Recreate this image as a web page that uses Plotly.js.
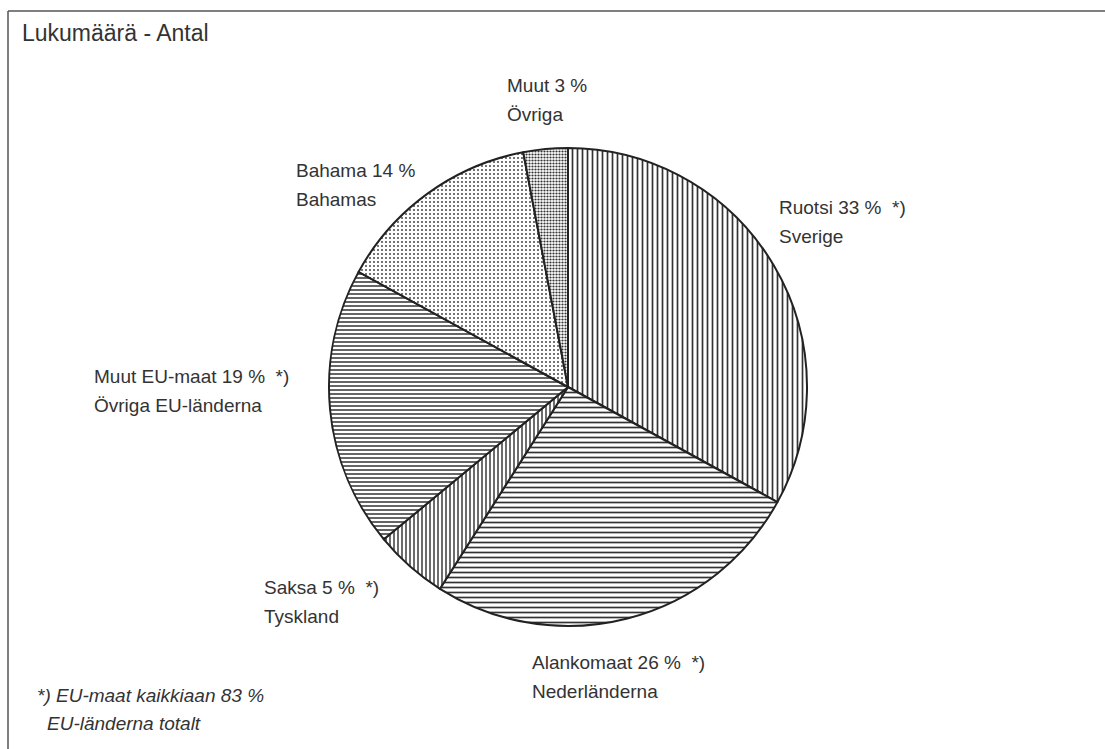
<!DOCTYPE html>
<html>
<head>
<meta charset="utf-8">
<script src="https://cdn.plot.ly/plotly-3.0.1.min.js"></script>
<style>
  html, body { margin: 0; padding: 0; background: #ffffff; }
  #plot { width: 1105px; height: 749px; }
</style>
</head>
<body>
<div id="plot"></div>
<script>
// share by flag state, clockwise from 12 o'clock
const labelsFi = ['Ruotsi', 'Alankomaat', 'Saksa', 'Muut EU-maat', 'Bahama', 'Muut'];
const labelsSv = ['Sverige', 'Nederländerna', 'Tyskland', 'Övriga EU-länderna', 'Bahamas', 'Övriga'];
const shares = [33, 26, 5, 19, 14, 3];
const isEU = [true, true, true, true, false, false];

const patternShapes = ['|', '-', '|', '-', '.', '.'];
const patternSizes = [5, 5, 4, 4, 4, 3];
const patternSolidity = [0.34, 0.34, 0.36, 0.38, 0.16, 0.42];

// label anchor (left edge, first line middle) in page pixels
const labelPos = [
  [777, 207], [530, 662], [262, 587], [92, 376], [294, 170], [505, 85]
];

const W = 1105, H = 749;
const LABEL_FONT = 'Liberation Sans, Arial, sans-serif';
const TEXT_COLOR = '#333333';
const LINE_GAP = 29;

function px(x) { return x / W; }
function py(y) { return 1 - y / H; }

const cx = 568, cy = 387, r = 239;

const trace = {
  type: 'pie',
  labels: labelsFi,
  values: shares,
  sort: false,
  direction: 'clockwise',
  rotation: 0,
  textinfo: 'none',
  hoverinfo: 'label+percent',
  domain: { x: [px(cx - r), px(cx + r)], y: [py(cy + r), py(cy - r)] },
  marker: {
    colors: shares.map(() => '#ffffff'),
    line: { color: '#222222', width: 2 },
    pattern: {
      shape: patternShapes,
      size: patternSizes,
      solidity: patternSolidity,
      fgcolor: '#333333',
      bgcolor: '#ffffff',
      fillmode: 'replace'
    }
  }
};

function textLine(text, x, y, italic) {
  return {
    xref: 'paper', yref: 'paper',
    x: px(x), y: py(y),
    xanchor: 'left', yanchor: 'middle',
    align: 'left',
    showarrow: false,
    text: italic ? '<i>' + text + '</i>' : text,
    font: { family: LABEL_FONT, size: 19, color: TEXT_COLOR }
  };
}

const annotations = [];
labelsFi.forEach((fi, i) => {
  const [x, y] = labelPos[i];
  annotations.push(textLine(fi + ' ' + shares[i] + ' %' + (isEU[i] ? '  *)' : ''), x, y));
  annotations.push(textLine(labelsSv[i], x, y + LINE_GAP));
});

const euTotal = shares.reduce((s, v, i) => s + (isEU[i] ? v : 0), 0);
annotations.push(textLine('*) EU-maat kaikkiaan ' + euTotal + ' %', 35, 695, true));
annotations.push(textLine('EU-länderna totalt', 45, 723, true));

const layout = {
  width: W,
  height: H,
  margin: { l: 0, r: 0, t: 0, b: 0 },
  paper_bgcolor: '#ffffff',
  showlegend: false,
  title: {
    text: 'Lukumäärä - Antal',
    x: px(22), xanchor: 'left',
    y: py(33), yanchor: 'middle',
    font: { family: 'Liberation Sans, Arial, sans-serif', size: 23, color: TEXT_COLOR }
  },
  shapes: [
    { type: 'line', xref: 'paper', yref: 'paper', x0: px(8), x1: 1, y0: py(11), y1: py(11),
      line: { color: '#555555', width: 1.5 } },
    { type: 'line', xref: 'paper', yref: 'paper', x0: px(8), x1: px(8), y0: py(11), y1: 0,
      line: { color: '#555555', width: 1.5 } }
  ],
  annotations
};

Plotly.newPlot('plot', [trace], layout, { displayModeBar: false, staticPlot: true });
</script>
</body>
</html>
